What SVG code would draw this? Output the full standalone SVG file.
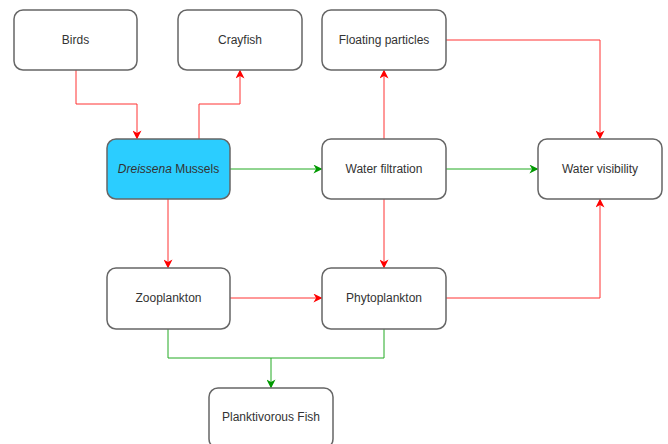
<svg xmlns="http://www.w3.org/2000/svg" width="668" height="444" viewBox="0 0 668 444">
<style>
.box{fill:#ffffff;stroke:#666666;stroke-width:1.5}
.hl{fill:#2BCDFF}
text{font-family:"Liberation Sans",Arial,sans-serif;font-size:12px;fill:#333333;text-anchor:middle;dominant-baseline:central}
.r{fill:none;stroke:#FF3333;stroke-width:1}
.g{fill:none;stroke:#22AA22;stroke-width:1}
</style>
<defs>
<marker id="ar" viewBox="0 0 10 10" refX="9" refY="5" markerWidth="9" markerHeight="9" markerUnits="userSpaceOnUse" orient="auto"><path d="M0,0 L10,5 L0,10 L3,5 Z" fill="#FF0000"/></marker>
<marker id="ag" viewBox="0 0 10 10" refX="9" refY="5" markerWidth="9" markerHeight="9" markerUnits="userSpaceOnUse" orient="auto"><path d="M0,0 L10,5 L0,10 L3,5 Z" fill="#009900"/></marker>
</defs>
<g id="connectors">
<path class="r" d="M76,70 V104 H137 V138.5" marker-end="url(#ar)"/>
<path class="r" d="M199,139 V104 H240 V70.5" marker-end="url(#ar)"/>
<path class="g" d="M230,169 H321.5" marker-end="url(#ag)"/>
<path class="r" d="M384,139 V70.5" marker-end="url(#ar)"/>
<path class="r" d="M446,40 H600 V138.5" marker-end="url(#ar)"/>
<path class="g" d="M446,169 H537.5" marker-end="url(#ag)"/>
<path class="r" d="M384,199 V267.5" marker-end="url(#ar)"/>
<path class="r" d="M168,199 V267.5" marker-end="url(#ar)"/>
<path class="r" d="M230,298 H321.5" marker-end="url(#ar)"/>
<path class="r" d="M446,298 H600 V199.5" marker-end="url(#ar)"/>
<path class="g" d="M168,329 V358 H271 V387.5" marker-end="url(#ag)"/>
<path class="g" d="M384,329 V358 H271"/>
</g>
<g id="birds"><rect class="box" x="14" y="10" width="123" height="60" rx="9"/><text x="75.5" y="40">Birds</text></g>
<g id="crayfish"><rect class="box" x="178" y="10" width="124" height="60" rx="9"/><text x="240" y="40">Crayfish</text></g>
<g id="floating"><rect class="box" x="322" y="10" width="124" height="60" rx="9"/><text x="384" y="40">Floating particles</text></g>
<g id="dreissena"><rect class="box hl" x="107" y="139" width="123" height="60" rx="9"/><text x="168.5" y="169"><tspan font-style="italic">Dreissena</tspan> Mussels</text></g>
<g id="filtration"><rect class="box" x="322" y="139" width="124" height="60" rx="9"/><text x="384" y="169">Water filtration</text></g>
<g id="visibility"><rect class="box" x="538" y="139" width="124" height="60" rx="9"/><text x="600" y="169">Water visibility</text></g>
<g id="zooplankton"><rect class="box" x="107" y="268" width="123" height="61" rx="9"/><text x="168.5" y="298">Zooplankton</text></g>
<g id="phytoplankton"><rect class="box" x="322" y="268" width="124" height="61" rx="9"/><text x="384" y="298">Phytoplankton</text></g>
<g id="fish"><rect class="box" x="209" y="388" width="124" height="60" rx="9"/><text x="271" y="417">Planktivorous Fish</text></g>
</svg>
